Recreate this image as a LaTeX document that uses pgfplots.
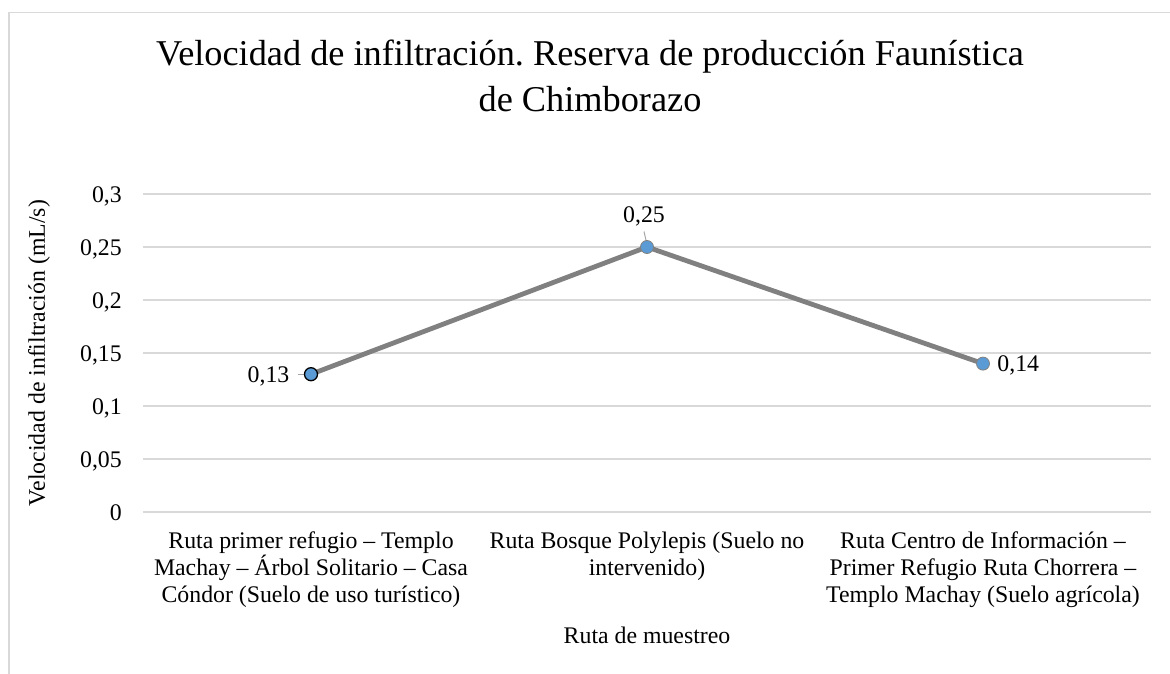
\documentclass[border=0pt]{standalone}
\usepackage{pgfplots}
\pgfplotsset{compat=1.18}
\usepackage{fontspec}
\setmainfont{Liberation Serif}
\frenchspacing
\definecolor{gridc}{HTML}{D9D9D9}
\definecolor{linec}{HTML}{808080}
\definecolor{markc}{HTML}{5B9BD5}
\definecolor{framec}{HTML}{D9D9D9}
\definecolor{leadc}{HTML}{A6A6A6}
\newcommand{\lblfont}{\fontsize{23.8}{27}\selectfont}
\begin{document}
\begin{tikzpicture}[x=1pt,y=1pt]
\begin{axis}[
  scale only axis, width=1008pt, height=318pt,
  xmin=-0.5, xmax=2.5, ymin=0, ymax=0.3,
  clip=false,
  axis line style={draw=none},
  tick style={draw=none},
  scaled y ticks=false,
  ymajorgrids, grid style={gridc, line width=1.3pt},
  ytick={0,0.05,0.1,0.15,0.2,0.25,0.3},
  xtick={0,1,2},
  xticklabels={{Ruta primer refugio – Templo\\Machay – Árbol Solitario – Casa\\Cóndor (Suelo de uso turístico)},
               {Ruta Bosque Polylepis (Suelo no\\intervenido)},
               {Ruta Centro de Información –\\Primer Refugio Ruta Chorrera –\\Templo Machay (Suelo agrícola)}},
  /pgf/number format/fixed,
  /pgf/number format/precision=2,
  /pgf/number format/use comma,
  /pgf/number format/assume math mode=true,
  yticklabel style={font=\lblfont, anchor=base east, inner sep=0pt, xshift=-21pt, yshift=-8pt},
  xticklabel style={font=\lblfont, align=center, anchor=north, inner sep=0pt, yshift=-20pt},
  xlabel={Ruta de muestreo},
  xlabel style={font=\lblfont, at={(rel axis cs:0.5,0)}, anchor=base, inner sep=0pt, yshift=-131pt},
  ylabel={Velocidad de infiltración (mL/s)},
  ylabel style={font=\lblfont, at={(rel axis cs:0,0.5)}, rotate=0, anchor=center, inner sep=0pt, yshift=104pt},
]
\addplot[linec, line width=4.8pt, no marks] coordinates {(0,0.13) (1,0.25) (2,0.14)};
\draw[leadc, line width=1pt] ([xshift=-13pt]axis cs:0,0.13) -- ([xshift=-5pt]axis cs:0,0.13);
\draw[leadc, line width=1pt] ([xshift=-3pt,yshift=15.5pt]axis cs:1,0.25) -- ([yshift=2.5pt]axis cs:1,0.25);
\addplot[only marks, mark=*, mark size=6.5pt, mark options={fill=markc, draw=black, line width=1.3pt},
  nodes near coords, nodes near coords style={font=\lblfont, anchor=base east, inner sep=0pt, xshift=-21pt, yshift=-8.5pt, text=black}]
  coordinates {(0,0.13)};
\addplot[only marks, mark=*, mark size=6.5pt, mark options={fill=markc, draw=linec, line width=0.8pt},
  nodes near coords, nodes near coords style={font=\lblfont, anchor=base, inner sep=0pt, xshift=-3pt, yshift=24.5pt, text=black}]
  coordinates {(1,0.25)};
\addplot[only marks, mark=*, mark size=6.5pt, mark options={fill=markc, draw=linec, line width=0.8pt},
  nodes near coords, nodes near coords style={font=\lblfont, anchor=base west, inner sep=0pt, xshift=14pt, yshift=-8pt, text=black}]
  coordinates {(2,0.14)};
\end{axis}
\pgfresetboundingbox
\path[use as bounding box] (-143,-161) rectangle (1027,512);
\draw[framec, line width=1.3pt] (-134,499.5) rectangle (1050,-200);
\node[align=center, font=\fontsize{36.3}{46}\selectfont, anchor=base, inner sep=0pt] at (447,400) {Velocidad de infiltración. Reserva de producción Faunística\\de Chimborazo};
\end{tikzpicture}
\end{document}
